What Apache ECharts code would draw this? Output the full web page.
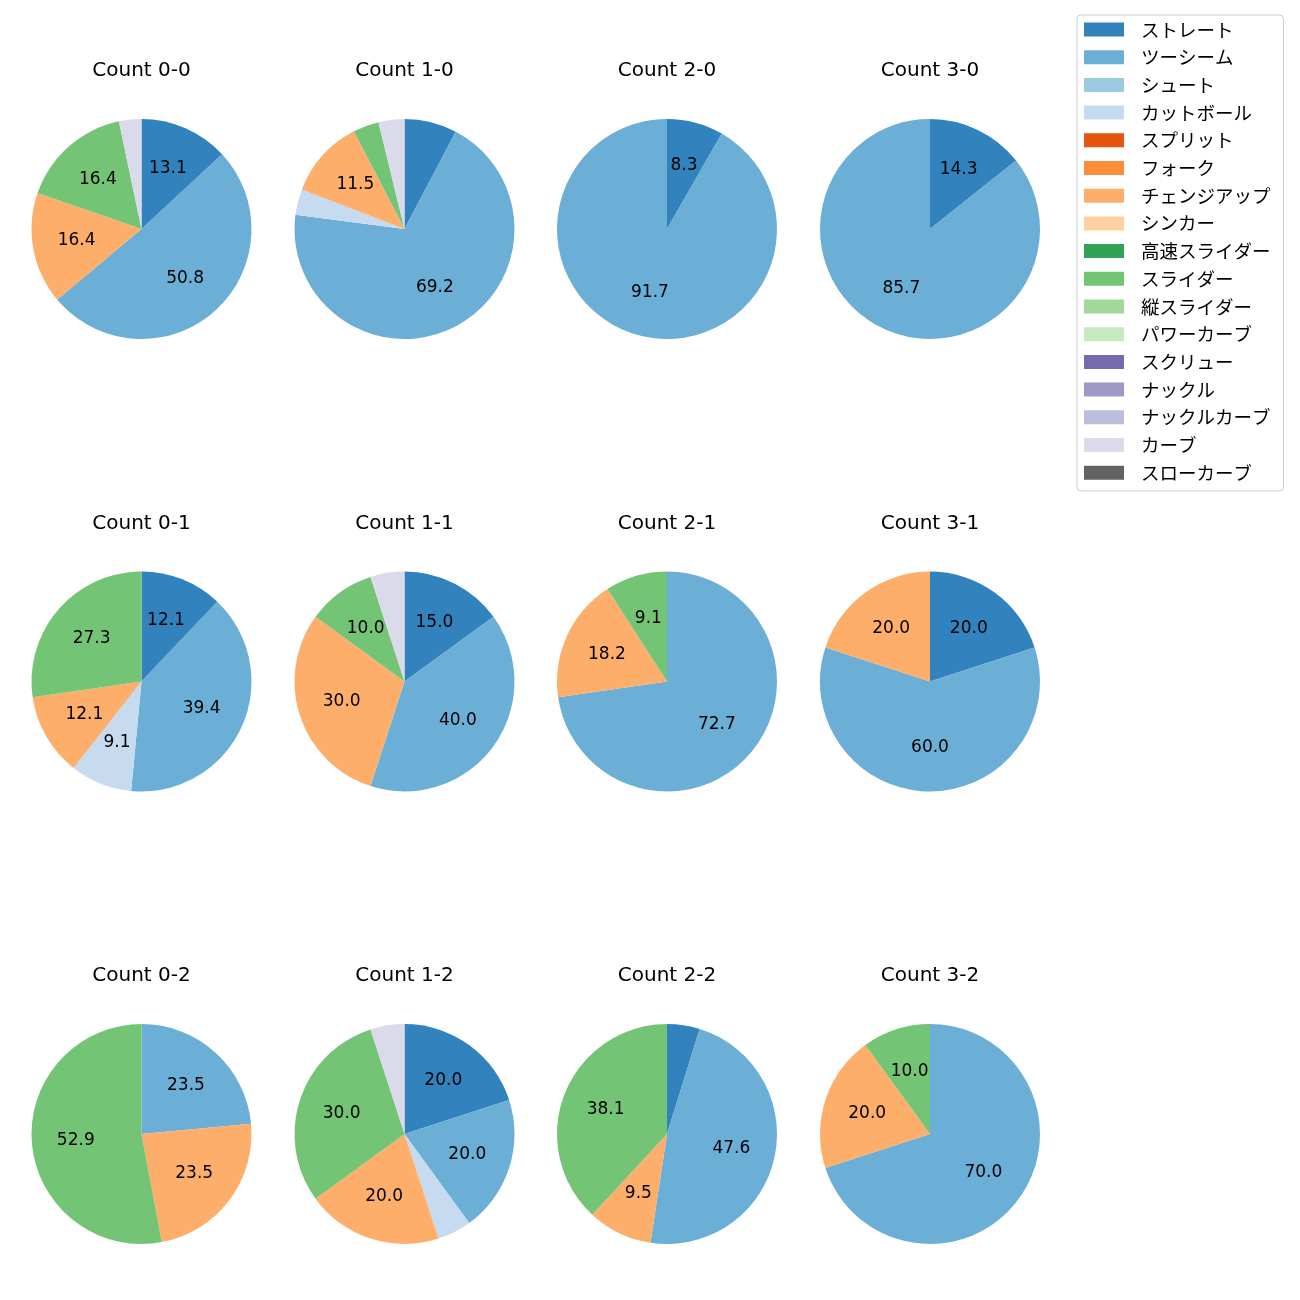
<!DOCTYPE html>
<html>
<head>
<meta charset="utf-8">
<script src="https://cdn.jsdelivr.net/npm/echarts@6/dist/echarts.min.js"></script>
<style>html,body{margin:0;padding:0;background:#fff}#c{width:1300px;height:1300px}</style>
</head>
<body>
<div id="c"></div>
<script>
// Pitch types (legend order)
const pitchTypes = ['ストレート','ツーシーム','シュート','カットボール','スプリット','フォーク','チェンジアップ','シンカー','高速スライダー','スライダー','縦スライダー','パワーカーブ','スクリュー','ナックル','ナックルカーブ','カーブ','スローカーブ'];
const pitchColors = ['#3182bd','#6baed6','#9ecae1','#c6dbef','#e6550d','#fd8d3c','#fdae6b','#fdd0a2','#31a354','#74c476','#a1d99b','#c7e9c0','#756bb1','#9e9ac8','#bcbddc','#dadaeb','#636363'];
// Counts (panel order)
const countTitles = ['Count 0-0','Count 1-0','Count 2-0','Count 3-0','Count 0-1','Count 1-1','Count 2-1','Count 3-1','Count 0-2','Count 1-2','Count 2-2','Count 3-2'];
// Percentages per pitch type, one value per count
const straight = [13.1, 7.7, 8.3, 14.3, 12.1, 15.0, 0, 20.0, 0, 20.0, 4.8, 0];
const twoSeam  = [50.8, 69.2, 91.7, 85.7, 39.4, 40.0, 72.7, 60.0, 23.5, 20.0, 47.6, 70.0];
const cutter   = [0, 3.8, 0, 0, 9.1, 0, 0, 0, 0, 5.0, 0, 0];
const changeup = [16.4, 11.5, 0, 0, 12.1, 30.0, 18.2, 20.0, 23.5, 20.0, 9.5, 20.0];
const slider   = [16.4, 3.8, 0, 0, 27.3, 10.0, 9.1, 0, 52.9, 30.0, 38.1, 10.0];
const curve    = [3.3, 3.8, 0, 0, 0, 5.0, 0, 0, 0, 5.0, 0, 0];
const valuesByType = {'ストレート': straight, 'ツーシーム': twoSeam, 'カットボール': cutter, 'チェンジアップ': changeup, 'スライダー': slider, 'カーブ': curve};

const LATIN = '"DejaVu Sans", "Noto Sans CJK JP", sans-serif';
const CJK = '"Noto Sans CJK JP", "Noto Sans", sans-serif';
const colX = [141.5, 404.5, 667, 930];
const rowY = [229, 681.5, 1134];
const R = 110;
const LABEL_MIN = 8;

const titles = [];
const series = [];
countTitles.forEach((t, i) => {
  const cx = colX[i % 4], cy = rowY[Math.floor(i / 4)];
  titles.push({
    text: t, left: cx, top: cy - 168, textAlign: 'center', padding: 0,
    textStyle: {fontFamily: LATIN, fontSize: 20, fontWeight: 'normal', color: '#000'}
  });
  const data = pitchTypes.map((p, k) => ({
    name: p,
    value: valuesByType[p] ? valuesByType[p][i] : 0,
    itemStyle: {color: pitchColors[k]}
  }));
  series.push({
    type: 'pie', center: [cx, cy], radius: [0, R], startAngle: 90, clockwise: true,
    data: data, label: {show: false}, labelLine: {show: false},
    itemStyle: {borderWidth: 0}, emphasis: {disabled: true}, animation: false, silent: true
  });
  series.push({
    type: 'pie', center: [cx, cy], radius: [16, R], startAngle: 90, clockwise: true,
    data: data.map(d => ({name: d.name, value: d.value, itemStyle: {color: 'rgba(0,0,0,0)'},
      label: {show: d.value >= LABEL_MIN}})),
    label: {position: 'inside', formatter: p => p.value.toFixed(1), fontFamily: LATIN, fontSize: 17, color: '#000'},
    labelLine: {show: false}, itemStyle: {borderWidth: 0}, emphasis: {disabled: true}, animation: false, silent: true,
    legendHoverLink: false
  });
});

const chart = echarts.init(document.getElementById('c'), null, {renderer: 'canvas'});
chart.setOption({
  backgroundColor: '#fff',
  animation: false,
  title: titles,
  legend: {
    orient: 'vertical', left: 1077, top: 15,
    data: pitchTypes,
    itemWidth: 40, itemHeight: 14, itemGap: 9.2,
    padding: [5.25, 13, 9, 7],
    borderColor: '#cccccc', borderWidth: 1, borderRadius: 4,
    icon: 'rect',
    selectedMode: false,
    formatter: n => '{a|' + n + '}',
    textStyle: {fontFamily: CJK, fontSize: 18.5, color: '#000', rich: {a: {fontFamily: CJK, fontSize: 18.5, color: '#000', padding: [0, 0, 0, 12]}}}
  },
  series: series
});
</script>
</body>
</html>
